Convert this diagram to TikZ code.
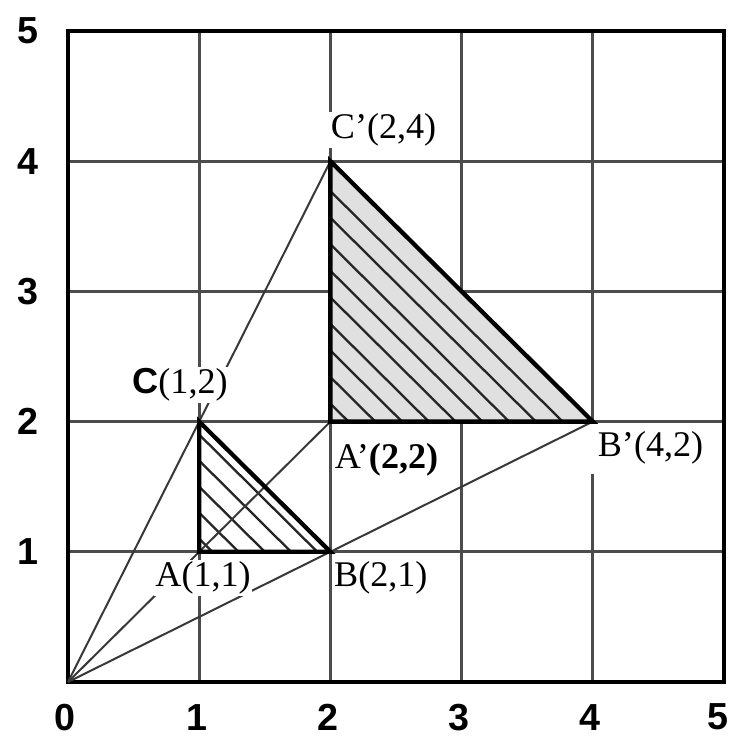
\documentclass[tikz,border=0pt]{standalone}
\usepackage{fontspec}
\setmainfont{Liberation Serif}
\setsansfont{Liberation Sans}
\begin{document}
\begin{tikzpicture}[x=3cm,y=2.977cm,
  gridline/.style={line width=1.8pt,draw=black!70},
  frameline/.style={line width=3pt,draw=black,line join=miter},
  projline/.style={line width=1.3pt,draw=black!78},
  hatchline/.style={line width=1.5pt,draw=black!85},
  triedge/.style={line width=2.8pt,draw=black,line join=miter},
  trifill/.style={fill=black!12},
  ptlabel/.style={font=\fontsize{23.5}{23.5}\selectfont,fill=white,inner sep=1pt},
  axlabel/.style={font=\sffamily\bfseries\fontsize{24.5}{24.5}\selectfont,inner sep=0pt}]
\useasboundingbox (-0.518,-0.430) rectangle (5.046,5.238);
% points
\coordinate (O) at (0,0);
\coordinate (A) at (1,1);
\coordinate (B) at (2,1);
\coordinate (C) at (1,2);
\coordinate (Ap) at (2,2);
\coordinate (Bp) at (4,2);
\coordinate (Cp) at (2,4);
% grid
\foreach \i in {1,2,3} {
  \draw[gridline] (\i,0) -- (\i,5);
}
\draw[gridline] (4,0) -- (4,1.6);
\draw[gridline] (4,2) -- (4,5);
\foreach \j in {1,...,4} {
  \draw[gridline] (0,\j) -- (5,\j);
}
\draw[frameline] (0,0) rectangle (5,5);
% big triangle fill and hatching
\fill[trifill] (Ap) -- (Bp) -- (Cp) -- cycle;
\foreach \k in {0,...,8} {
  \pgfmathsetmacro{\c}{5.77-0.204*\k}
  \draw[hatchline] (2,{\c-2}) -- ({\c-2},2);
}
% small triangle hatching
\foreach \c in {2.9,2.7,2.5,2.3,2.1} {
  \draw[hatchline] (1,{\c-1}) -- ({\c-1},1);
}
% projection lines
\draw[projline] (O) -- (Cp);
\draw[projline] (O) -- (Ap);
\draw[projline] (O) -- (Bp);
% triangle edges
\draw[triedge] (A) -- (B) -- (C) -- cycle;
\draw[triedge] (Ap) -- (Bp) -- (Cp) -- cycle;
% point labels
\node[ptlabel,anchor=west] (lCp) at (1.99,4.24) {C'(2,4)};
\node[ptlabel] (lC) at (0.854,2.28) {{\sffamily\bfseries C}(1,2)};
\node[ptlabel,anchor=west] (lAp) at (2.02,1.705) {A'\textbf{(2,2)}};
\node[ptlabel] (lA) at (1.03,0.80) {A(1,1)};
\node[ptlabel,anchor=west] (lB) at (2.015,0.80) {B(2,1)};
\node[ptlabel] (lBp) at (4.44,1.80) {B'(4,2)};
% axis labels
\foreach \v/\nm in {0/x0,1/x1,2/x2,3/x3,4/x4} {
  \node[axlabel] (\nm) at (\v-0.02,-0.27) {\v};
}
\node[axlabel] (x5) at (4.955,-0.27) {5};
\foreach \v/\nm in {1/y1,2/y2,3/y3,4/y4,5/y5} {
  \node[axlabel] (\nm) at (-0.305,\v) {\v};
}
\end{tikzpicture}
\end{document}
